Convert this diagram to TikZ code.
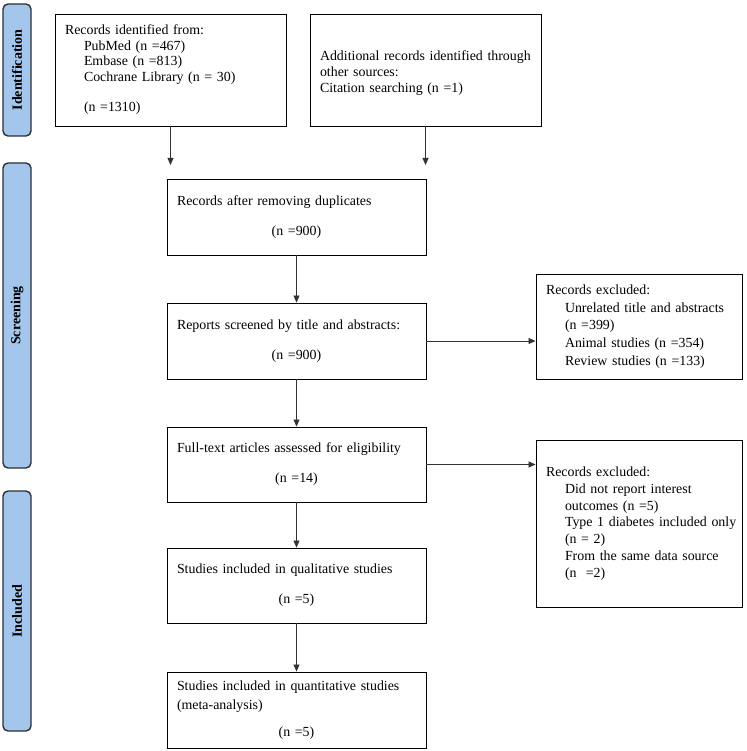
\documentclass[tikz,border=0pt]{standalone}
\usepackage{fontspec}
\setmainfont{Liberation Serif}
\usetikzlibrary{arrows.meta}
\definecolor{barblue}{HTML}{A4C6EC}
\definecolor{bardraw}{HTML}{2B2F36}
\tikzset{
  sidebar/.style={draw=bardraw, fill=barblue, line width=1.4pt, rounded corners=5pt,
    rotate=90, minimum height=28pt, inner sep=0pt, font=\fontsize{14}{16}\selectfont\bfseries},
  box/.style={draw=black, line width=0.9pt, inner xsep=10pt, inner ysep=0pt, align=left,
    font=\fontsize{13.9}{16}\selectfont},
  flow/.style={draw=black!80, line width=0.8pt, -{Triangle[length=7pt,width=6pt]}},
}
\newcommand{\ind}{\hspace*{19pt}}
\newcommand{\ctr}[1]{\makebox[\linewidth][c]{#1}}
\begin{document}
\begin{tikzpicture}[x=1pt,y=-1pt]
\useasboundingbox (0,0) rectangle (746,751);
% sidebars
\node[sidebar, minimum width=132pt] (sid) at (17,70) {Identification};
\node[sidebar, minimum width=305pt] (sscr) at (17,315.5) {Screening};
\node[sidebar, minimum width=240pt] (sinc) at (17,611) {Included};
% boxes
\node[box, text width=211pt, minimum height=112pt, font=\fontsize{13.9}{15.4}\selectfont] (b1) at (170.5,70)
  {Records identified from:\\ \ind PubMed (n =467)\\ \ind Embase (n =813)\\ \ind Cochrane Library (n = 30)\\ \mbox{}\\ \ind(n =1310)};
\node[box, text width=211pt, minimum height=112pt] (b2) at (425.5,70)
  {\mbox{}\\ Additional records identified through\\ other sources:\\ Citation searching (n =1)};
\node[box, text width=239pt, minimum height=76pt, font=\fontsize{13.9}{15}\selectfont] (b3) at (296.5,217)
  {Records after removing duplicates\\ \mbox{}\\ \ctr{(n =900)}};
\node[box, text width=239pt, minimum height=76pt, font=\fontsize{13.9}{15}\selectfont] (b4) at (296.5,341)
  {Reports screened by title and abstracts:\\ \mbox{}\\ \ctr{(n =900)}};
\node[box, text width=186pt, minimum height=105pt, font=\fontsize{13.9}{17.8}\selectfont] (b5) at (639,326.5)
  {Records excluded:\\ \ind Unrelated title and abstracts\\ \ind (n =399)\\ \ind Animal studies (n =354)\\ \ind Review studies (n =133)};
\node[box, text width=239pt, minimum height=75pt, font=\fontsize{13.9}{15}\selectfont] (b6) at (296.5,464.5)
  {Full-text articles assessed for eligibility\\ \mbox{}\\ \ctr{(n =14)}};
\node[box, text width=186pt, minimum height=167pt, font=\fontsize{13.9}{16.8}\selectfont] (b7) at (639,523.5)
  {Records excluded:\\ \ind Did not report interest\\ \ind outcomes (n =5)\\ \ind\mbox{Type 1 diabetes included only}\\ \ind (n = 2)\\ \ind From the same data source\\ \ind (n\ \ =2)};
\node[box, text width=239pt, minimum height=75pt, font=\fontsize{13.9}{15}\selectfont] (b8) at (296.5,585.5)
  {Studies included in qualitative studies\\ \mbox{}\\ \ctr{(n =5)}};
\node[box, text width=239pt, minimum height=76pt, font=\fontsize{13.9}{16}\selectfont] (b9) at (296.5,710)
  {Studies included in quantitative studies\\[3pt] (meta-analysis)\\[11pt] \ctr{(n =5)}};
% connectors
\coordinate (e1) at (b1.south |- 0,165);
\coordinate (e2) at (b2.south |- 0,165);
\draw[flow] (b1.south) -- (e1);
\draw[flow] (b2.south) -- (e2);
\draw[flow] (b3.south) -- (b4.north);
\draw[flow] (b4.east) -- (b4.east -| b5.west);
\draw[flow] (b4.south) -- (b6.north);
\draw[flow] (b6.east) -- (b6.east -| b7.west);
\draw[flow] (b6.south) -- (b8.north);
\draw[flow] (b8.south) -- (b9.north);
\end{tikzpicture}
\end{document}
